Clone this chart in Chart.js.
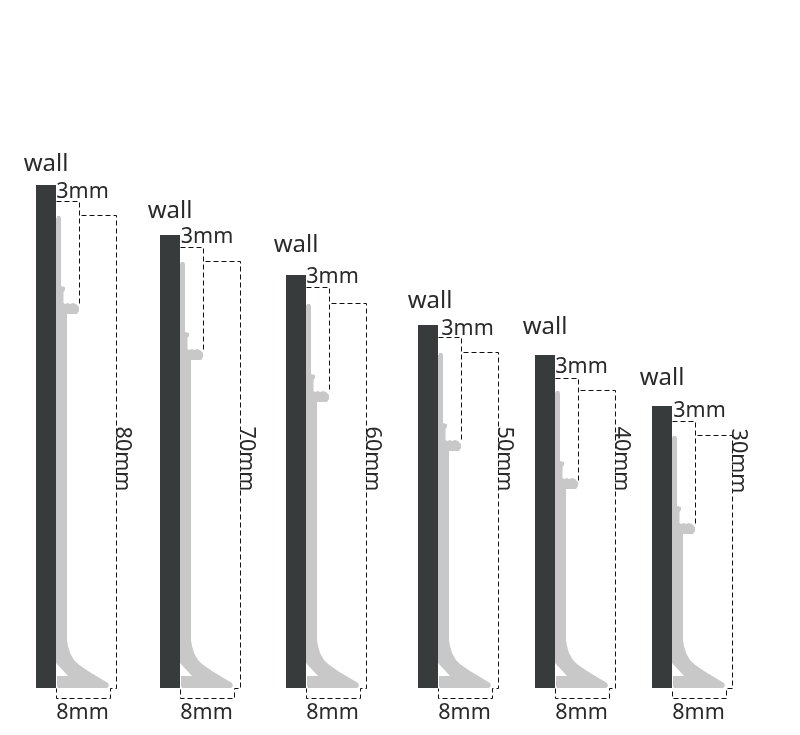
<!DOCTYPE html>
<html><head><meta charset="utf-8">
<style>html,body{margin:0;padding:0;background:#fff}canvas{display:block}</style>
<script src="https://cdn.jsdelivr.net/npm/chart.js@4"></script>
</head><body><canvas id="c" width="800" height="735"></canvas>
<script>
const sizeLabels=["80mm","70mm","60mm","50mm","40mm","30mm"];
const wallLeft=[36,160,286,418,535,652];
const wallRight=[56,180,306,438,555,672];
const wallTop=[185,235,275,325,355,406];
const floorY=688;
const gapTop=[201,247,287,337,378,421];
const gapRight=[79,203,329,461,578,695];
const gapBottom=[306,350,392,441,480,524];
const heightTop=[215,261,303,352,390,435];
const heightRight=[116,240,366,498,615,732];
const wallLabelX=[46,170,296,430,545,662];
const wallLabelY=[164,211,245,301,327,378];
const gapLabelX=[82.5,207,332.5,467.5,581.5,699.5];
const gapLabelY=[191.5,236.5,276.5,328.5,366.5,410.5];
const widthLabelX=[82.5,206.5,332.5,464.5,581.5,698.5];
const widthLabelY=[712.5,712.5,712.5,712.5,712.5,712.5];
const sizeLabelX=[122,246,372,504,621,738];
const sizeLabelY=[459,459,459,459,459,461];
const upperDx=[0,1,4,5,5,9,9,7.5,7.5,9,12,14,17,20,23,23,21,11];
const upperDy=[3,1,1,3,71,72,75,77,88,89,88,89,88,89,92,96,99,99];
const lowerDx=[11,12,14,18,22,32,52,53,51,2,1,1,12,0];
const lowerDy=[-48,-42,-35,-28,-24,-17,-5,-2,0,0,-2,-12,-12,-25];
const wallColor="#373b3c", profileColor="#c8c8c8";
const wallFontSize=24, dimFontSize=21.5, sizeFontSize=21.5;

const datasets=[];
function poly(pts,fillColor){datasets.push({type:"scatter",showLine:true,data:[...pts,pts[0]],borderColor:fillColor,backgroundColor:fillColor,borderWidth:0,pointRadius:0,fill:"shape",tension:0,clip:false});}
function dash(pts){datasets.push({type:"scatter",showLine:true,data:pts.map(p=>({x:p.x+0.5,y:p.y+0.5})),borderColor:"#111",borderWidth:1,borderDash:[5,3],pointRadius:0,fill:false,tension:0,clip:false});}
wallLeft.forEach((l,i)=>{
  const r=wallRight[i];
  poly([{x:l,y:wallTop[i]},{x:r,y:wallTop[i]},{x:r,y:floorY},{x:l,y:floorY}],wallColor);
  const pts=[];
  upperDx.forEach((d,k)=>pts.push({x:r+d,y:heightTop[i]+upperDy[k]}));
  lowerDx.forEach((d,k)=>pts.push({x:r+d,y:floorY+lowerDy[k]}));
  poly(pts,profileColor);
  dash([{x:r,y:gapTop[i]},{x:gapRight[i],y:gapTop[i]},{x:gapRight[i],y:gapBottom[i]}]);
  const h=heightRight[i];
  dash([{x:gapRight[i]+2,y:heightTop[i]},{x:h,y:heightTop[i]},{x:h,y:floorY},{x:h-6,y:floorY},{x:h-6,y:698},{x:r,y:698},{x:r,y:floorY}]);
});
const textPlugin={id:"texts",afterDatasetsDraw(ch){
  const c=ch.ctx,X=ch.scales.x,Y=ch.scales.y;
  c.save();c.fillStyle="#2a2a2a";c.textAlign="center";c.textBaseline="middle";
  wallLeft.forEach((_,i)=>{
    c.font=wallFontSize+'px "Noto Sans"';
    c.fillText("wall",X.getPixelForValue(wallLabelX[i]),Y.getPixelForValue(wallLabelY[i]));
    c.font=dimFontSize+'px "Noto Sans"';
    c.fillText("3mm",X.getPixelForValue(gapLabelX[i]),Y.getPixelForValue(gapLabelY[i]));
    c.fillText("8mm",X.getPixelForValue(widthLabelX[i]),Y.getPixelForValue(widthLabelY[i]));
    c.font=sizeFontSize+'px "Noto Sans"';
    c.save();c.translate(X.getPixelForValue(sizeLabelX[i]),Y.getPixelForValue(sizeLabelY[i]));c.rotate(Math.PI/2);
    c.fillText(sizeLabels[i],0,0);c.restore();
  });
  c.restore();
}};
new Chart(document.getElementById("c"),{type:"scatter",data:{datasets},plugins:[textPlugin],options:{
  responsive:false,animation:false,layout:{padding:0},
  plugins:{legend:{display:false},tooltip:{enabled:false},title:{display:false}},
  scales:{x:{type:"linear",min:0,max:800,display:false},y:{type:"linear",min:0,max:735,reverse:true,display:false}}
}});
</script></body></html>
